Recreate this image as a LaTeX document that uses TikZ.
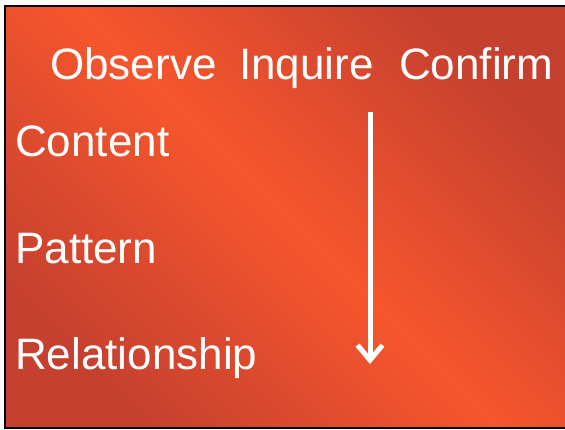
\documentclass[tikz,border=0pt]{standalone}
\usepackage{fontspec}
\setmainfont{Liberation Sans}
\usetikzlibrary{arrows.meta}
\definecolor{bgdark}{RGB}{198,64,47}
\definecolor{bgbright}{RGB}{246,86,45}
\begin{document}
\begin{tikzpicture}[x=1pt,y=-1pt,
  lbl/.style={anchor=base west,inner sep=0pt,text=white,font=\fontsize{44}{52}\selectfont},
  flow/.style={draw=white,line width=5pt,-{Straight Barb[length=15pt,width=25pt,line width=5pt]}}]
\useasboundingbox (0,0) rectangle (565,429);
\shade[left color=bgdark,right color=bgdark,middle color=bgbright,shading angle=-45] (5,6) rectangle (567,428);
\draw[black,line width=2pt] (5,6) -- (5,427.5) -- (567,427.5);
\draw[black,line width=2pt] (4,6) -- (567,6);
\node[lbl] (observe) at (50,79) {Observe};
\node[lbl] (inquire) at (239,79) {Inquire};
\node[lbl] (confirm) at (399,79) {Confirm};
\node[lbl] (content) at (15,156) {Content};
\node[lbl] (pattern) at (15,263) {Pattern};
\node[lbl] (relationship) at (15,369) {Relationship};
\coordinate (astart) at (370,112);
\coordinate (aend) at (370,364);
\draw[flow] (astart) -- (aend);
\end{tikzpicture}
\end{document}
